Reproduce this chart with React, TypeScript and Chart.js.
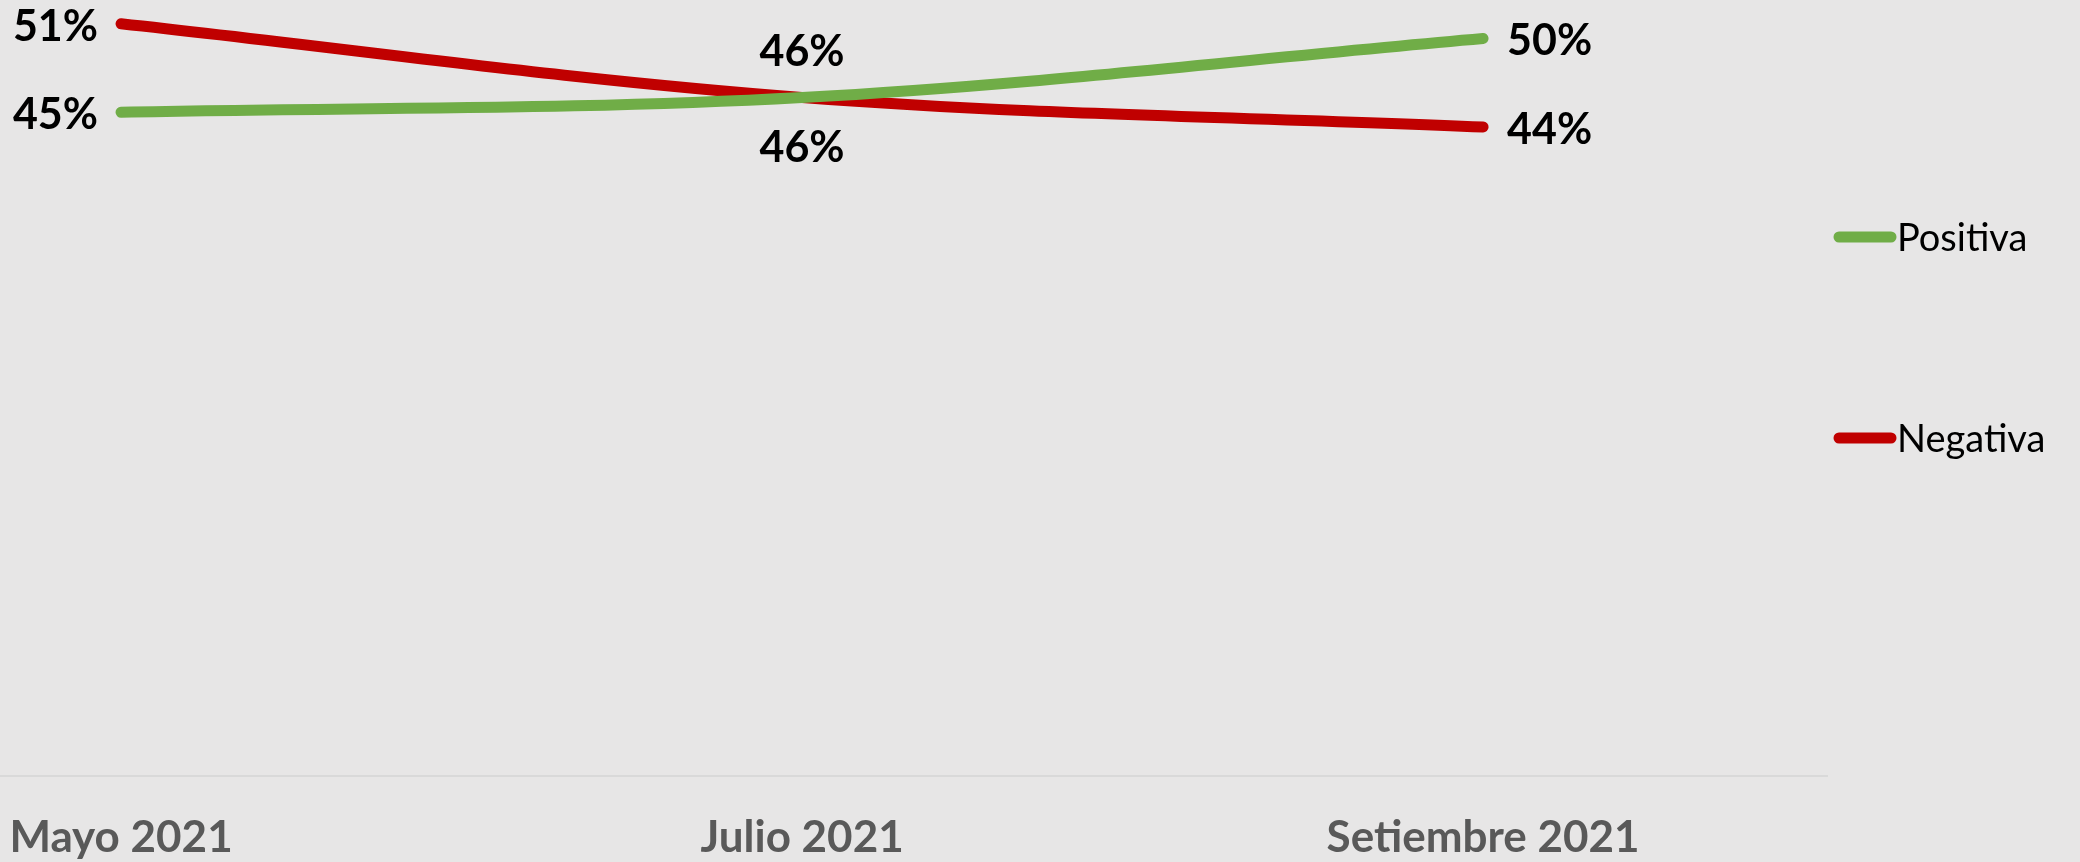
import { useEffect, useRef } from 'react';
import { Chart, registerables } from 'chart.js';

Chart.register(...registerables);

const categories = ['Mayo 2021', 'Julio 2021', 'Setiembre 2021'];
const seriesNames = ['Positiva', 'Negativa'];
const positiva = [45, 46, 50];
const negativa = [51, 46, 44];

const GREEN = '#70AD47';
const RED = '#C00000';
const BG = '#E7E6E6';

const labelsPlugin = {
  id: 'valueLabels',
  afterDatasetsDraw(chart: any) {
    const ctx = chart.ctx;
    ctx.save();
    ctx.font = 'bold 43px Lato';
    ctx.fillStyle = '#000000';
    ctx.textBaseline = 'middle';
    chart.data.datasets.forEach((ds: any, di: number) => {
      const meta = chart.getDatasetMeta(di);
      meta.data.forEach((pt: any, i: number) => {
        const v = ds.data[i].y;
        const txt = v + '%';
        let x = pt.x;
        let y = pt.y + 3;
        if (i === 0) {
          ctx.textAlign = 'right';
          x = pt.x - 23;
        } else if (i === meta.data.length - 1) {
          ctx.textAlign = 'left';
          x = pt.x + 24;
        } else {
          ctx.textAlign = 'center';
          y = pt.y + (di === 0 ? -45 : 51);
        }
        ctx.fillText(txt, x, y);
      });
    });
    ctx.restore();
  },
};

const legendPlugin = {
  id: 'customLegend',
  afterDraw(chart: any) {
    const ctx = chart.ctx;
    ctx.save();
    const ys = [237, 438];
    chart.data.datasets.forEach((ds: any, di: number) => {
      const y = ys[di];
      ctx.strokeStyle = ds.borderColor;
      ctx.lineWidth = 11;
      ctx.lineCap = 'round';
      ctx.beginPath();
      ctx.moveTo(1839, y);
      ctx.lineTo(1891, y);
      ctx.stroke();
      ctx.fillStyle = '#000000';
      ctx.font = '38px Lato';
      ctx.textAlign = 'left';
      ctx.textBaseline = 'middle';
      ctx.fillText(ds.label, 1897, y + 2);
    });
    ctx.restore();
  },
};

export default function App() {
  const ref = useRef<HTMLCanvasElement>(null);
  useEffect(() => {
    document.body.style.margin = '0';
    document.body.style.background = BG;
    const chart = new Chart(ref.current as HTMLCanvasElement, {
      type: 'line',
      data: {
        datasets: [
          {
            label: seriesNames[0],
            data: positiva.map((v, i) => ({ x: i, y: v })),
            borderColor: GREEN,
            backgroundColor: GREEN,
            borderWidth: 11,
            borderCapStyle: 'round',
            borderJoinStyle: 'round',
            pointRadius: 0,
            tension: 0.35,
          },
          {
            label: seriesNames[1],
            data: negativa.map((v, i) => ({ x: i, y: v })),
            borderColor: RED,
            backgroundColor: RED,
            borderWidth: 11,
            borderCapStyle: 'round',
            borderJoinStyle: 'round',
            pointRadius: 0,
            tension: 0.35,
          },
        ],
      },
      options: {
        responsive: false,
        animation: false,
        layout: { padding: { top: 9, right: 253, left: 0, bottom: 0 } },
        scales: {
          x: {
            type: 'linear',
            min: -0.1777,
            max: 2.505,
            afterBuildTicks: (s: any) => {
              s.ticks = categories.map((_, i) => ({ value: i }));
            },
            afterFit: (s: any) => {
              s.height = 86;
              s.paddingLeft = 0;
              s.paddingRight = 0;
            },
            ticks: {
              callback: (v: any) => categories[v] ?? '',
              font: { family: 'Lato', weight: 'bold', size: 44 },
              color: '#595959',
              padding: 35,
              autoSkip: false,
              maxRotation: 0,
            },
            grid: { display: false, drawTicks: false },
            border: { display: true, color: '#D9D9D9', width: 2 },
          },
          y: { display: false, min: 0, max: 52 },
        },
        plugins: { legend: { display: false }, tooltip: { enabled: false } },
      } as any,
      plugins: [labelsPlugin, legendPlugin],
    });
    return () => chart.destroy();
  }, []);
  return (
    <div style={{ position: 'fixed', left: 0, top: 0, width: 2080, height: 862, background: BG }}>
      <canvas ref={ref} width={2080} height={862} style={{ display: 'block' }} />
    </div>
  );
}
